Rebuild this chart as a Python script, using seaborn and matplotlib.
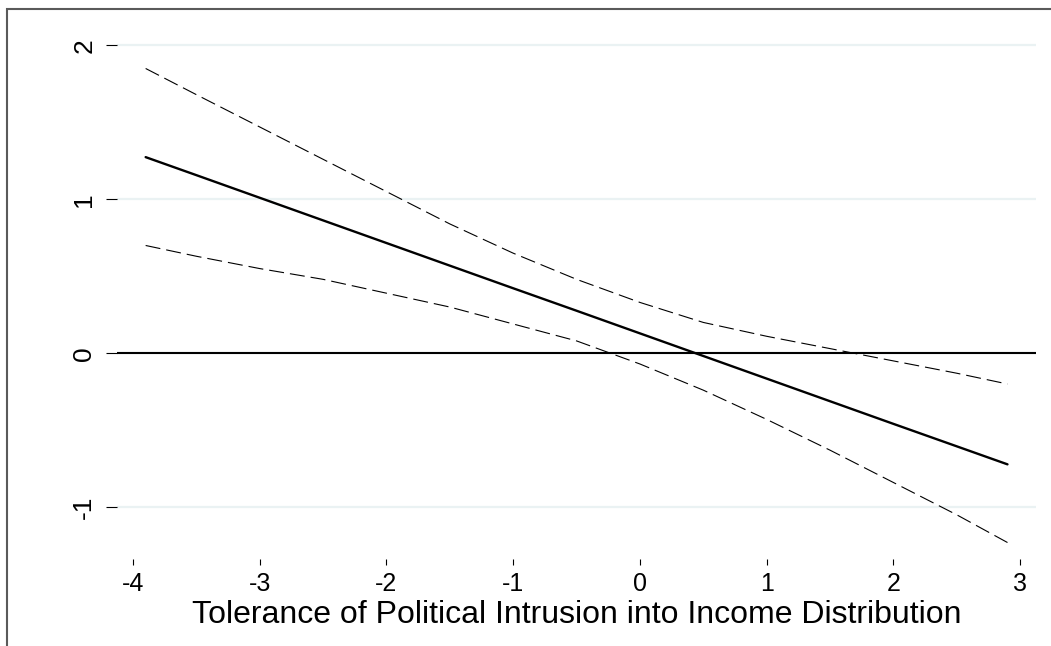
import matplotlib
matplotlib.use("Agg")
import matplotlib.pyplot as plt
import seaborn as sns
import pandas as pd
from matplotlib.patches import Rectangle

# values
x_vals = [-3.9, -3.5, -3.0, -2.5, -2.0, -1.5, -1.0, -0.5, 0.0, 0.5, 1.0, 1.5, 2.0, 2.5, 2.9]
effect = [1.274, 1.157, 1.010, 0.863, 0.716, 0.569, 0.422, 0.276, 0.129, -0.018, -0.165, -0.312, -0.459, -0.605, -0.722]
upper = [1.85, 1.68, 1.47, 1.26, 1.05, 0.84, 0.65, 0.48, 0.33, 0.20, 0.11, 0.03, -0.05, -0.13, -0.20]
lower = [0.70, 0.63, 0.55, 0.48, 0.39, 0.30, 0.19, 0.08, -0.07, -0.24, -0.43, -0.63, -0.84, -1.05, -1.23]
x_ticks = [-4, -3, -2, -1, 0, 1, 2, 3]
y_ticks = [-1, 0, 1, 2]
xlabel = "Tolerance of Political Intrusion into Income Distribution"

df = pd.DataFrame({"x": x_vals, "effect": effect, "upper": upper, "lower": lower})

sns.set_style("white")
plt.rcParams["font.family"] = ["Liberation Sans", "DejaVu Sans"]
plt.rcParams["text.color"] = "black"
plt.rcParams["xtick.color"] = "black"
plt.rcParams["ytick.color"] = "black"
plt.rcParams["axes.labelcolor"] = "black"

fig = plt.figure(figsize=(10.51, 6.46), dpi=100)
ax = fig.add_axes([117 / 1051, 1 - 559 / 646, (1036 - 117) / 1051, (559 - 30) / 646])

for yv in y_ticks:
    ax.axhline(yv, color="#eaf2f3", lw=1.6, zorder=0)
ax.axhline(0, color="black", lw=1.5, zorder=1)

sns.lineplot(data=df, x="x", y="upper", ax=ax, color="black", lw=0.8,
             linestyle=(0, (13.5, 5.4)))
sns.lineplot(data=df, x="x", y="lower", ax=ax, color="black", lw=0.8,
             linestyle=(0, (13.5, 5.4)))
sns.lineplot(data=df, x="x", y="effect", ax=ax, color="black", lw=1.7)

ax.set_xlim(-4.126, 3.125)
ax.set_ylim(-1.337, 2.10)
ax.set_xticks(x_ticks)
ax.set_yticks(y_ticks)
ax.set_xticklabels([str(t) for t in x_ticks], fontsize=18)
ax.set_yticklabels([str(t) for t in y_ticks], fontsize=19, rotation=90, va="center")
ax.tick_params(axis="x", bottom=True, direction="out", length=4.5, width=0.8, pad=5)
ax.tick_params(axis="y", left=True, direction="out", length=8, width=0.8, pad=7)
ax.set_xlabel(xlabel, fontsize=23, labelpad=3)
ax.set_ylabel("")
for s in ax.spines.values():
    s.set_visible(False)

# outer frame (cropped graph border)
fig.add_artist(Rectangle((7 / 1051, -0.5), 2, 0.5 + (1 - 9 / 646), transform=fig.transFigure,
                         fill=False, edgecolor="#5a5a5a", lw=1.5))

fig.savefig("out.png", dpi=100)
